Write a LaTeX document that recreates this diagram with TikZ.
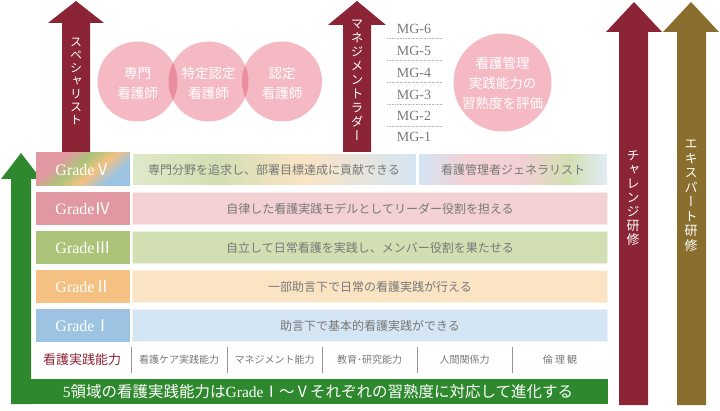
\documentclass[tikz,border=0pt]{standalone}
\usepackage{fontspec}
\setmainfont{Noto Sans CJK JP}
\newfontfamily\latinserif{Liberation Serif}
\newfontfamily\tatefont[RawFeature=+vert]{Noto Sans CJK JP}

\definecolor{wine}{RGB}{139,36,52}
\definecolor{ochre}{RGB}{137,110,46}
\definecolor{leaf}{RGB}{46,137,46}
\definecolor{petal}{RGB}{244,185,195}
\definecolor{petaldeep}{RGB}{234,142,158}
\definecolor{textgray}{RGB}{120,120,120}
\definecolor{rulegray}{RGB}{150,150,150}
\definecolor{tagIV}{RGB}{226,152,161}
\definecolor{bandIV}{RGB}{242,208,212}
\definecolor{tagIII}{RGB}{172,196,122}
\definecolor{bandIII}{RGB}{210,223,178}
\definecolor{tagII}{RGB}{244,193,130}
\definecolor{bandII}{RGB}{250,228,196}
\definecolor{tagI}{RGB}{156,196,226}
\definecolor{bandI}{RGB}{212,229,243}

\pgfdeclarehorizontalshading{tagV}{100bp}{color(0bp)=(tagIV); color(32bp)=(tagIV); color(45bp)=(tagIII); color(57bp)=(tagII); color(70bp)=(tagI); color(100bp)=(tagI)}
\pgfdeclarehorizontalshading{bandV}{100bp}{color(0bp)=(bandIII!70!white); color(25bp)=(bandIII!70!white); color(40bp)=(bandIII); color(55bp)=(bandII); color(75bp)=(bandI); color(100bp)=(bandI)}
\pgfdeclarehorizontalshading{bandVgen}{100bp}{color(0bp)=(bandI); color(25bp)=(bandI); color(38bp)=(bandIV); color(52bp)=(bandIV); color(65bp)=(bandIII); color(75bp)=(bandI!70!white); color(100bp)=(bandI!70!white)}

% (shaft left, shaft right, head left, head right, tip, head base, bottom, colour)
\newcommand{\uparrowblock}[8]{
    \fill[#8] (#1,#7) -- (#1,#6) -- (#3,#6) -- ({(#3+#4)/2},#5)
      -- (#4,#6) -- (#2,#6) -- (#2,#7) -- cycle;
}
% (name, top, tag text, tag colour, band colour, band text)
\newcommand{\gradeband}[6]{
    \fill[#4] (36,#2) rectangle (130,#2+33);
    \filldraw[fill=#5, draw=#5!45!white, line width=0.8pt]
      (132.5,#2+0.5) rectangle (607.5,#2+32.5);
    \node[tag] (#1) at (83,#2+16.5) {#3};
    \node[bandtext] (#1-text) at (370,#2+16.5) {#6};
}
% (name, left, right, text)
\newcommand{\skillcell}[4]{
    \node[skilltext] (#1) at ({(#2+#3)/2},360) {#4};
}

\begin{document}
\begin{tikzpicture}[x=1pt, y=-1pt,
    tag/.style={text=white, inner sep=0pt, font=\fontsize{16}{16}\selectfont},
    bandtext/.style={text=textgray, inner sep=0pt, font=\fontsize{12}{12}\selectfont},
    skilltext/.style={text=textgray, inner sep=0pt, font=\fontsize{10}{10}\selectfont},
    tate/.style={text=white, inner sep=0pt, anchor=north, align=center},
    bubble/.style={text=white, inner sep=0pt, align=center, font=\fontsize{13.5}{20}\selectfont},
    mglevel/.style={text=textgray, inner sep=0pt, font=\latinserif\fontsize{14}{14}\selectfont}]

  \useasboundingbox (0,0) rectangle (720,411);

  % career arrows
  \uparrowblock{62}{90}{48}{104}{1}{23}{152}{wine}
  \uparrowblock{343}{371}{328}{386}{1}{25}{152}{wine}
  \uparrowblock{619}{648}{606}{662}{2}{32}{405}{wine}
  \uparrowblock{677}{706}{663}{719}{2}{32}{405}{ochre}
  \uparrowblock{11}{31}{1}{41}{153}{179}{404}{leaf}
  \fill[leaf] (11,379) rectangle (608,404);

  \node[tate, font=\tatefont\fontsize{12}{13}\selectfont] (specialist) at (76,38)
    {ス\\ペ\\シ\\ャ\\リ\\ス\\ト};
  \node[tate, font=\tatefont\fontsize{12.5}{14}\selectfont] (ladder) at (357,20)
    {マ\\ネ\\ジ\\メ\\ン\\ト\\ラ\\ダ\\ー};
  \node[tate, font=\tatefont\fontsize{13}{14}\selectfont] (challenge) at (633,150)
    {チ\\ャ\\レ\\ン\\ジ\\研\\修};
  \node[tate, font=\tatefont\fontsize{13}{14.5}\selectfont] (expert) at (691,140)
    {エ\\キ\\ス\\パ\\ー\\ト\\研\\修};

  % qualification circles
  \fill[petal] (137.5,81.5) circle (40);
  \fill[petal] (208.5,81.5) circle (40);
  \fill[petal] (282,81.5) circle (40);
  \begin{scope}
    \clip (208.5,81.5) circle (40);
    \fill[petaldeep] (137.5,81.5) circle (40);
    \fill[petaldeep] (282,81.5) circle (40);
  \end{scope}
  \node[bubble] (cns) at (137.5,83) {専門\\看護師};
  \node[bubble] (nps) at (208.5,83) {特定認定\\看護師};
  \node[bubble] (cn) at (282,83) {認定\\看護師};

  \fill[petal] (502.5,82.5) circle (49);
  \node[bubble] (review) at (502.5,83) {看護管理\\実践能力の\\習熟度を評価};

  % management ladder
  \foreach \lv/\y in {1/137,2/116,3/95,4/73,5/51,6/29}
    \node[mglevel] (mg\lv) at (414,\y) {MG-\lv};
  \foreach \y in {38,60,82,104,126}
    \draw[rulegray!70, densely dotted, line width=0.6pt] (387,\y) -- (442,\y);

  % grades
  \fill[shading=tagV, shading angle=-50] (36,153) rectangle (130,186);
  \filldraw[shading=bandV, draw=white, line width=0.8pt]
    (132.5,153.5) rectangle (416.5,185.5);
  \filldraw[shading=bandVgen, draw=white, line width=0.8pt]
    (418.5,153.5) rectangle (607.5,185.5);
  \node[tag] (gV) at (83,169.5) {{\latinserif Grade}Ⅴ};
  \node[bandtext] (gV-text) at (274,169.5) {専門分野を追求し、部署目標達成に貢献できる};
  \node[bandtext] (gV-gen) at (513,169.5) {看護管理者ジェネラリスト};

  \gradeband{gIV}{192}{{\latinserif Grade}Ⅳ}{tagIV}{bandIV}{自律した看護実践モデルとしてリーダー役割を担える}
  \gradeband{gIII}{231}{{\latinserif Grade}Ⅲ}{tagIII}{bandIII}{自立して日常看護を実践し、メンバー役割を果たせる}
  \gradeband{gII}{270}{{\latinserif Grade}Ⅱ}{tagII}{bandII}{一部助言下で日常の看護実践が行える}
  \gradeband{gI}{309}{{\latinserif Grade}Ⅰ}{tagI}{bandI}{助言下で基本的看護実践ができる}

  % five domains
  \node[text=wine, inner sep=0pt, font=\fontsize{13}{13}\selectfont] (domains) at (82,360) {看護実践能力};
  \foreach \x in {131,227,322,417,512}
    \draw[rulegray, line width=1pt] (\x,347) -- (\x,373);
  \skillcell{care}{131}{227}{看護ケア実践能力}
  \skillcell{manage}{227}{322}{マネジメント能力}
  \skillcell{edu}{322}{417}{教育･研究能力}
  \skillcell{human}{417}{512}{人間関係力}
  \skillcell{ethics}{512}{608}{倫 理 観}

  \node[text=white, inner sep=0pt, font=\fontsize{15.5}{15.5}\selectfont] (motto) at (318,392)
    {{\latinserif 5}領域の看護実践能力は{\latinserif Grade}Ⅰ～Ⅴそれぞれの習熟度に対応して進化する};

\end{tikzpicture}
\end{document}
